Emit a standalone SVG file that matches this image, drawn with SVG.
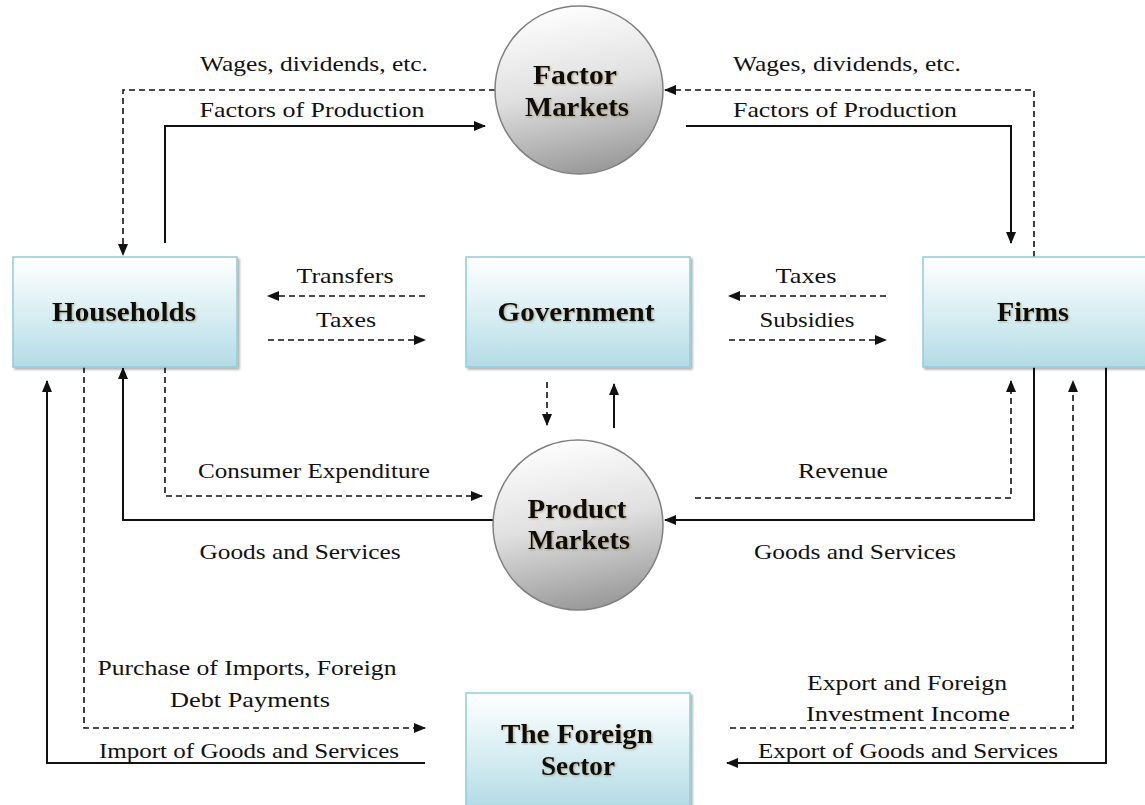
<svg xmlns="http://www.w3.org/2000/svg" width="1145" height="805" viewBox="0 0 1145 805">
  <style>
    .lbl { font-family: "Liberation Serif", "DejaVu Serif", serif; font-size: 22px; fill: #111; text-anchor: middle; }
    .title { font-family: "Liberation Serif", "DejaVu Serif", serif; font-size: 27px; font-weight: bold; fill: #111; text-anchor: middle; filter: url(#tshadow); }
    .box { fill: url(#boxGrad); stroke: #93cbda; stroke-width: 1.5; filter: url(#boxShadow); }
    .market { fill: url(#ballGrad); stroke: #808080; stroke-width: 1.5; }
    .solid { fill: none; stroke: #111; stroke-width: 2; }
    .dash { fill: none; stroke: #111; stroke-width: 1.6; stroke-dasharray: 6 4; }
  </style>
  <defs>
    <linearGradient id="boxGrad" x1="0" y1="0" x2="0" y2="1">
      <stop offset="0" stop-color="#ffffff"/>
      <stop offset="0.55" stop-color="#d6edf2"/>
      <stop offset="1" stop-color="#b3dbe5"/>
    </linearGradient>
    <linearGradient id="ballGrad" x1="0.3" y1="0" x2="0.5" y2="1">
      <stop offset="0" stop-color="#ffffff"/>
      <stop offset="0.5" stop-color="#e0e0e0"/>
      <stop offset="1" stop-color="#9a9a9a"/>
    </linearGradient>
    <filter id="boxShadow" x="-5%" y="-5%" width="112%" height="115%">
      <feDropShadow dx="2" dy="2" stdDeviation="1.2" flood-color="#000" flood-opacity="0.3"/>
    </filter>
    <filter id="tshadow" x="-10%" y="-20%" width="120%" height="140%">
      <feDropShadow dx="1" dy="1" stdDeviation="0.8" flood-color="#7a5a20" flood-opacity="0.45"/>
    </filter>
    <marker id="arrow" markerWidth="12" markerHeight="10" refX="11" refY="5" orient="auto" markerUnits="userSpaceOnUse">
      <path d="M0,0 L12,5 L0,10 Z" fill="#111"/>
    </marker>
  </defs>

  <!-- flows -->
  <g id="connectors">
    <!-- factor markets: households side -->
    <path class="dash" d="M495,90 H123 V255" marker-end="url(#arrow)"/>
    <path class="solid" d="M165,243 V126 H485" marker-end="url(#arrow)"/>
    <!-- factor markets: firms side -->
    <path class="dash" d="M1034,257 V90 H665" marker-end="url(#arrow)"/>
    <path class="solid" d="M686,126 H1011 V243" marker-end="url(#arrow)"/>

    <!-- government flows -->
    <path class="dash" d="M425,296 H268" marker-end="url(#arrow)"/>
    <path class="dash" d="M268,340 H425" marker-end="url(#arrow)"/>
    <path class="dash" d="M886,296 H729" marker-end="url(#arrow)"/>
    <path class="dash" d="M729,340 H886" marker-end="url(#arrow)"/>
    <path class="dash" d="M547,382 V425" marker-end="url(#arrow)"/>
    <path class="solid" d="M614,428 V384" marker-end="url(#arrow)"/>

    <!-- product markets: households side -->
    <path class="dash" d="M165,367 V496 H482" marker-end="url(#arrow)"/>
    <path class="solid" d="M493,520 H123 V368" marker-end="url(#arrow)"/>
    <!-- product markets: firms side -->
    <path class="dash" d="M695,498 H1011 V381" marker-end="url(#arrow)"/>
    <path class="solid" d="M1034,367 V520 H665" marker-end="url(#arrow)"/>

    <!-- foreign sector -->
    <path class="solid" d="M425,763 H47 V381" marker-end="url(#arrow)"/>
    <path class="dash" d="M84,367 V728 H425" marker-end="url(#arrow)"/>
    <path class="dash" d="M730,728 H1073 V381" marker-end="url(#arrow)"/>
    <path class="solid" d="M1106,367 V763 H727" marker-end="url(#arrow)"/>
  </g>

  <!-- flow labels -->
  <g id="labels">
    <text class="lbl" x="314" y="71" textLength="228" lengthAdjust="spacingAndGlyphs">Wages, dividends, etc.</text>
    <text class="lbl" x="312" y="117" textLength="225" lengthAdjust="spacingAndGlyphs">Factors of Production</text>
    <text class="lbl" x="847" y="71" textLength="228" lengthAdjust="spacingAndGlyphs">Wages, dividends, etc.</text>
    <text class="lbl" x="845" y="117" textLength="224" lengthAdjust="spacingAndGlyphs">Factors of Production</text>
    <text class="lbl" x="345" y="283" textLength="97" lengthAdjust="spacingAndGlyphs">Transfers</text>
    <text class="lbl" x="346" y="327" textLength="60" lengthAdjust="spacingAndGlyphs">Taxes</text>
    <text class="lbl" x="806" y="283" textLength="61" lengthAdjust="spacingAndGlyphs">Taxes</text>
    <text class="lbl" x="807" y="327" textLength="95" lengthAdjust="spacingAndGlyphs">Subsidies</text>
    <text class="lbl" x="314" y="478" textLength="232" lengthAdjust="spacingAndGlyphs">Consumer Expenditure</text>
    <text class="lbl" x="843" y="478" textLength="90" lengthAdjust="spacingAndGlyphs">Revenue</text>
    <text class="lbl" x="300" y="559" textLength="201" lengthAdjust="spacingAndGlyphs">Goods and Services</text>
    <text class="lbl" x="855" y="559" textLength="202" lengthAdjust="spacingAndGlyphs">Goods and Services</text>
    <text class="lbl" x="247" y="675" textLength="299" lengthAdjust="spacingAndGlyphs">Purchase of Imports, Foreign</text>
    <text class="lbl" x="250" y="707" textLength="160" lengthAdjust="spacingAndGlyphs">Debt Payments</text>
    <text class="lbl" x="249" y="758" textLength="300" lengthAdjust="spacingAndGlyphs">Import of Goods and Services</text>
    <text class="lbl" x="907" y="690" textLength="200" lengthAdjust="spacingAndGlyphs">Export and Foreign</text>
    <text class="lbl" x="908" y="721" textLength="204" lengthAdjust="spacingAndGlyphs">Investment Income</text>
    <text class="lbl" x="908" y="758" textLength="300" lengthAdjust="spacingAndGlyphs">Export of Goods and Services</text>
  </g>

  <g id="factor-markets">
    <circle class="market" cx="579" cy="90" r="84"/>
    <text class="title" x="575" y="84" textLength="84" lengthAdjust="spacingAndGlyphs">Factor</text>
    <text class="title" x="577" y="116" textLength="104" lengthAdjust="spacingAndGlyphs">Markets</text>
  </g>

  <g id="product-markets">
    <circle class="market" cx="578" cy="525" r="85"/>
    <text class="title" x="577" y="518" textLength="99" lengthAdjust="spacingAndGlyphs">Product</text>
    <text class="title" x="579" y="549" textLength="102" lengthAdjust="spacingAndGlyphs">Markets</text>
  </g>

  <g id="households">
    <rect class="box" x="13" y="257" width="224" height="110"/>
    <text class="title" x="124" y="321" textLength="144" lengthAdjust="spacingAndGlyphs">Households</text>
  </g>

  <g id="government">
    <rect class="box" x="466" y="257" width="224" height="110"/>
    <text class="title" x="576" y="321" textLength="157" lengthAdjust="spacingAndGlyphs">Government</text>
  </g>

  <g id="firms">
    <rect class="box" x="923" y="257" width="224" height="110"/>
    <text class="title" x="1033" y="321" textLength="72" lengthAdjust="spacingAndGlyphs">Firms</text>
  </g>

  <g id="foreign-sector">
    <rect class="box" x="466" y="693" width="224" height="114"/>
    <text class="title" x="577" y="743" textLength="152" lengthAdjust="spacingAndGlyphs">The Foreign</text>
    <text class="title" x="578" y="775" textLength="74" lengthAdjust="spacingAndGlyphs">Sector</text>
  </g>
</svg>
